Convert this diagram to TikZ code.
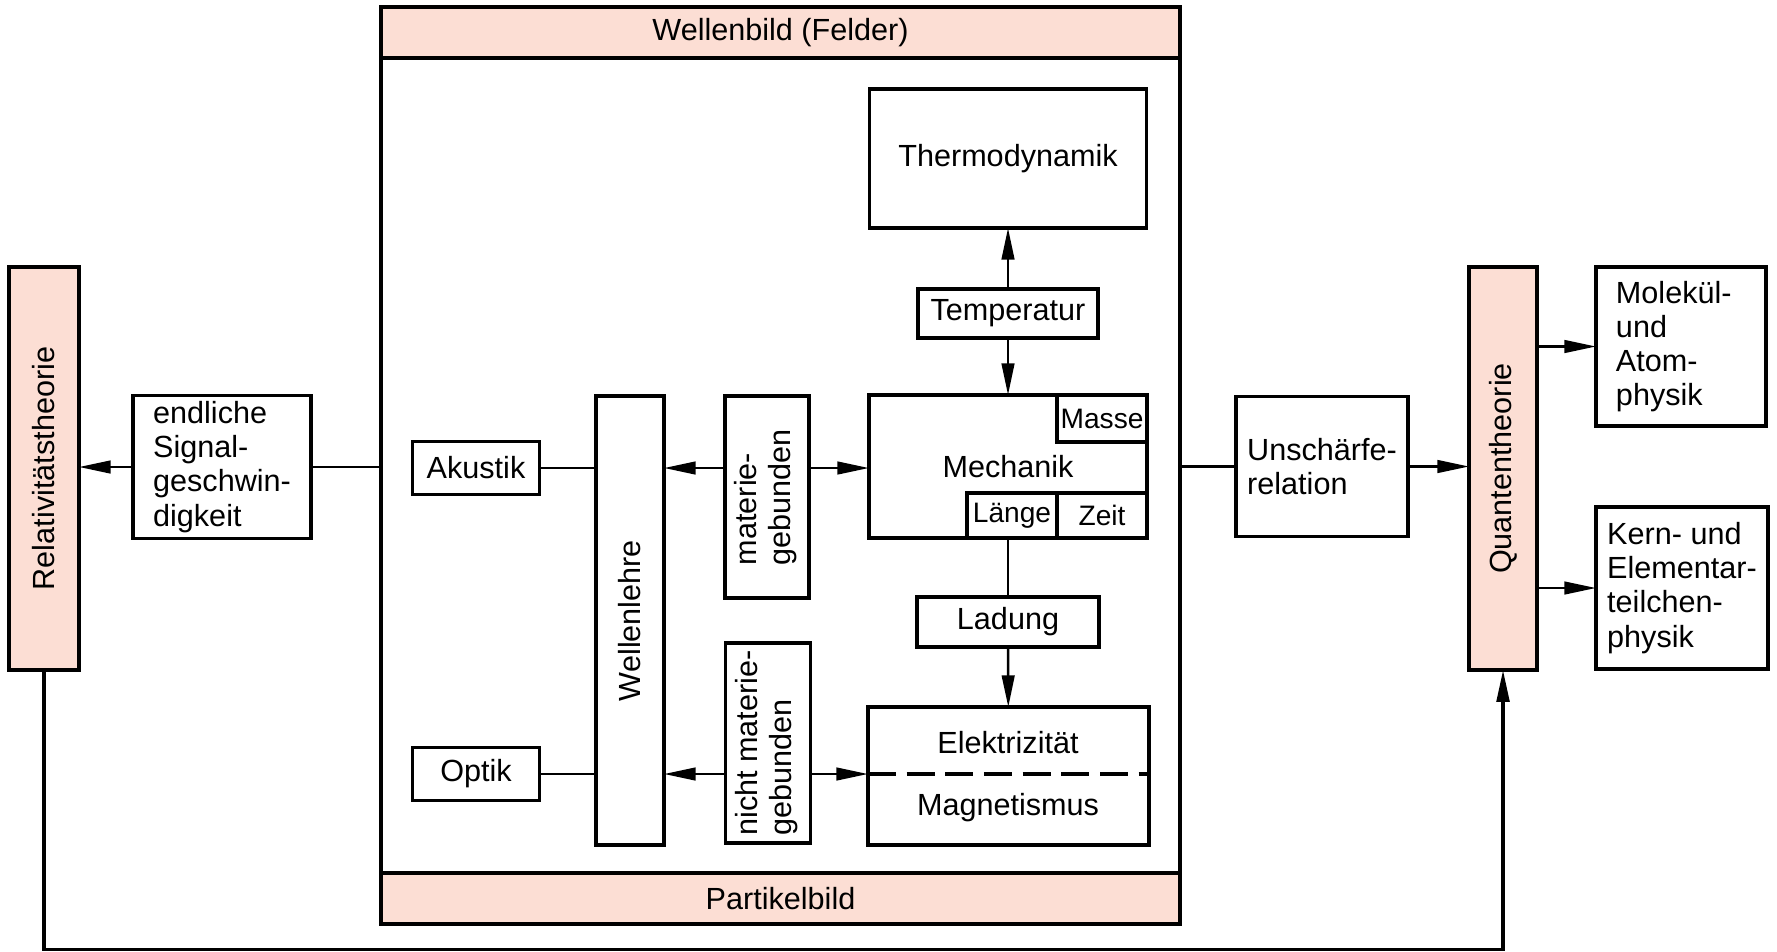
\documentclass[tikz,border=0pt]{standalone}
\usepackage{fontspec}
\setmainfont{Liberation Sans}
\usetikzlibrary{positioning, arrows.meta}
\definecolor{rosa}{RGB}{252,222,212}

\begin{document}
\begin{tikzpicture}[x=0.01cm, y=-0.01cm, >={Triangle[length=9pt,width=3.6pt]},
                  line width=0.7pt, font=\fontsize{8.7}{9.7}\selectfont,
                  box/.style={draw, line width=1pt, inner sep=0pt, outer sep=0pt,
                  align=center, fill=white},
                  farbig/.style={box, fill=rosa},
                  klein/.style={box, font=\fontsize{8}{9}\selectfont}]

                  \useasboundingbox (0,0) rectangle (1777,951);

                  % Colocamos el marco con las dos bandas.
                  \node[draw, line width=1.2pt, outer sep=0pt, minimum width=7.99cm,
                  minimum height=9.17cm] (rahmen) at (780.5,465.5) {};
                  \node[farbig, line width=1.2pt, minimum width=7.99cm,
                  minimum height=0.51cm] (wellenbild) at (780.5,32.5) {Wellenbild (Felder)};
                  \node[farbig, line width=1.2pt, minimum width=7.99cm,
                  minimum height=0.51cm] (partikelbild) at (780.5,898.5) {Partikelbild};

                  % Colocamos las cajas de la izquierda.
                  \node[farbig, minimum width=0.70cm, minimum height=4.03cm] (rel)
                  at (44,468.5) {\rotatebox{90}{Relativitätstheorie}};
                  \node[box, align=left, minimum width=1.78cm, minimum height=1.43cm] (signal)
                  at (222,467) {endliche\\Signal-\\geschwin-\\digkeit};

                  % Colocamos las cajas dentro del marco.
                  \node[box, minimum width=1.27cm, minimum height=0.53cm] (akustik)
                  at (476,468) {Akustik};
                  \node[box, minimum width=1.27cm, minimum height=0.53cm] (optik)
                  at (476,774) {Optik};
                  \node[box, minimum width=0.68cm, minimum height=4.49cm] (wellenlehre)
                  at (630,620.5) {\rotatebox{90}{Wellenlehre}};
                  \node[box, minimum width=0.84cm, minimum height=2.02cm] (materie)
                  at (767,497) {\rotatebox{90}{\begin{tabular}{@{}l@{}}materie-\\
                  gebunden\end{tabular}}};
                  \node[box, minimum width=0.85cm, minimum height=2.00cm] (nichtmaterie)
                  at (768,743) {\rotatebox{90}{\begin{tabular}{@{}l@{}}nicht materie-\\
                  gebunden\end{tabular}}};
                  \node[box, minimum width=2.77cm, minimum height=1.39cm] (thermo)
                  at (1008,158.5) {Thermodynamik};
                  \node[box, minimum width=1.80cm, minimum height=0.49cm] (temperatur)
                  at (1008,313.5) {Temperatur};
                  \node[box, minimum width=2.78cm, minimum height=1.43cm] (mechanik)
                  at (1008,466.5) {Mechanik};
                  \node[klein, anchor=north east, minimum width=0.90cm,
                  minimum height=0.47cm] (masse) at (mechanik.north east) {Masse};
                  \node[klein, anchor=south east, minimum width=0.90cm,
                  minimum height=0.45cm] (zeit) at (mechanik.south east) {Zeit};
                  \node[klein, left=0pt of zeit, minimum width=0.90cm,
                  minimum height=0.45cm] (laenge) {Länge};
                  \node[box, minimum width=1.82cm, minimum height=0.50cm] (ladung)
                  at (1008,622) {Ladung};
                  \node[box, minimum width=2.81cm, minimum height=1.38cm] (elmag)
                  at (1008.5,776) {};
                  \node (elektrizitaet) at (1008,743) {Elektrizität};
                  \node (magnetismus) at (1008,808) {Magnetismus};

                  % Colocamos las cajas de la derecha.
                  \node[box, align=left, minimum width=1.72cm, minimum height=1.40cm]
                  (unschaerfe) at (1322,466.5) {Unschärfe-\\relation};
                  \node[farbig, minimum width=0.68cm, minimum height=4.03cm] (quanten)
                  at (1503,468.5) {\rotatebox{90}{Quantentheorie}};
                  \node[box, align=left, inner xsep=0.2cm, text width=1.30cm,
                  minimum height=1.59cm] (molekuel) at (1681,346.5)
                  {Molekül-\\und\\Atom-\\physik};
                  \node[box, align=left, minimum width=1.72cm, minimum height=1.62cm]
                  (kern) at (1682,588) {Kern- und\\Elementar-\\teilchen-\\physik};

                  % Dibujamos las conexiones.
                  \draw (signal) edge[->] (signal -| rel.east)
                  (signal) edge (signal -| rahmen.west)
                  (akustik) edge (akustik -| wellenlehre.west)
                  (materie.west |- akustik) edge[->] (akustik -| wellenlehre.east)
                  (materie.east |- akustik) edge[->] (akustik -| mechanik.west)
                  (optik) edge (optik -| wellenlehre.west)
                  (nichtmaterie.west |- optik) edge[->] (optik -| wellenlehre.east)
                  (nichtmaterie.east |- optik) edge[->] (optik -| elmag.west)
                  (temperatur) edge[->] (thermo)
                  (temperatur) edge[->] (mechanik)
                  (mechanik) edge (ladung)
                  (ladung) edge[->] (elmag)
                  (rahmen.east |- unschaerfe) edge (unschaerfe)
                  (unschaerfe) edge[->] (unschaerfe -| quanten.west)
                  (quanten.east |- molekuel) edge[->] (molekuel)
                  (quanten.east |- kern) edge[->] (kern);
                  \draw[dashed, dash pattern=on 8pt off 3pt, line width=0.9pt]
                  (optik -| elmag.west) -- (optik -| elmag.east);
                  \draw[->, line width=0.9pt] (rel.south) -- ++(0,279) -| (quanten.south);

\end{tikzpicture}
\end{document}
